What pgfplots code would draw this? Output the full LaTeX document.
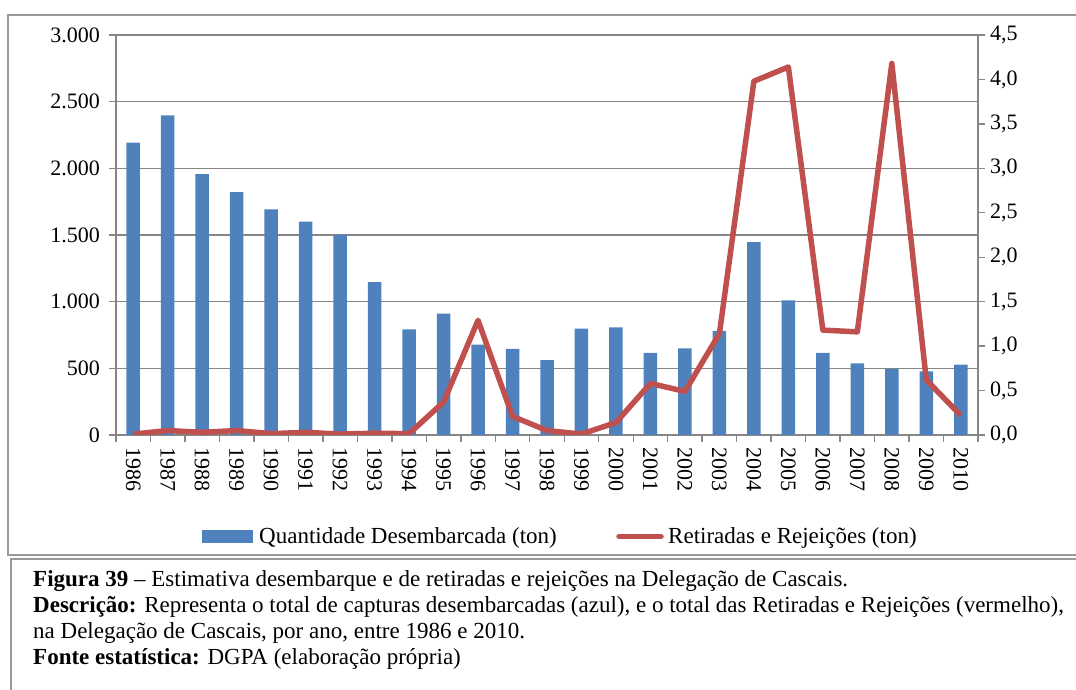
\documentclass[border=0pt]{standalone}
\usepackage{fontspec}
\setmainfont{Liberation Serif}
\usepackage{pgfplots}
\pgfplotsset{compat=1.18}
\definecolor{barblue}{HTML}{4F81BD}
\definecolor{linered}{HTML}{C0504D}
\definecolor{axgray}{HTML}{868686}
\definecolor{framegray}{HTML}{9A9A9A}
\newcommand{\tickfont}{\fontsize{22}{26}\selectfont}
\newcommand{\txtfont}{\fontsize{23}{27}\selectfont}
\begin{document}
\begin{tikzpicture}
\useasboundingbox (0pt,0pt) rectangle (1076pt,690pt);
% outer frames
\draw[framegray, line width=1.6pt] (1076pt,675pt) -- (8pt,675pt) -- (8pt,135pt) -- (1076pt,135pt);
\draw[framegray, line width=1.6pt] (1076pt,131pt) -- (11pt,131pt) -- (11pt,0pt);

\begin{axis}[
  at={(116pt,255pt)}, anchor=south west, scale only axis,
  width=862pt, height=400pt,
  xmin=-0.5, xmax=24.5, ymin=0, ymax=3000,
  axis x line*=bottom, axis y line*=left,
  axis line style={axgray, line width=1.8pt, -},
  ytick={0,500,1000,1500,2000,2500,3000},
  ymajorgrids, grid style={axgray, line width=1.5pt},
  xtick={0,...,24},
  xticklabels={1986,1987,1988,1989,1990,1991,1992,1993,1994,1995,1996,1997,1998,1999,2000,2001,2002,2003,2004,2005,2006,2007,2008,2009,2010},
  minor xtick={-0.5,0.5,...,24.5},
  tick align=outside,
  major tick length=7pt, minor tick length=7pt,
  major x tick style={draw=none},
  minor x tick style={axgray, line width=1.4pt},
  major y tick style={axgray, line width=1.4pt},
  x tick label style={rotate=-90, anchor=west, font=\tickfont, inner sep=0pt},
  xticklabel shift=5pt,
  y tick label style={font=\tickfont, inner sep=0pt},
  yticklabel shift=9pt,
  /pgf/number format/assume math mode=true,
  /pgf/number format/.cd, 1000 sep={.},
]
\addplot[ybar, bar width=13.5pt, fill=barblue, draw=none] coordinates {
(0,2192) (1,2397) (2,1957) (3,1822) (4,1693) (5,1600) (6,1500) (7,1147) (8,793) (9,910)
(10,677) (11,645) (12,562) (13,797) (14,807) (15,615) (16,650) (17,780) (18,1447) (19,1010)
(20,615) (21,537) (22,495) (23,477) (24,527)};
\end{axis}

\begin{axis}[
  at={(116pt,255pt)}, anchor=south west, scale only axis,
  width=862pt, height=400pt,
  xmin=-0.5, xmax=24.5, ymin=0, ymax=4.5,
  axis x line=none, axis y line*=right,
  axis line style={axgray, line width=1.8pt, -},
  ytick={0,0.5,1,1.5,2,2.5,3,3.5,4,4.5},
  tick align=outside, major tick length=7pt,
  major y tick style={axgray, line width=1.4pt},
  y tick label style={font=\tickfont, inner sep=0pt},
  yticklabel shift=5pt,
  /pgf/number format/assume math mode=true,
  /pgf/number format/.cd, fixed, fixed zerofill, precision=1, use comma,
]
\addplot[linered, line width=5.5pt, mark=none, line join=round] coordinates {
(0,0.01) (1,0.05) (2,0.03) (3,0.05) (4,0.015) (5,0.03) (6,0.01) (7,0.02) (8,0.015) (9,0.37)
(10,1.29) (11,0.21) (12,0.05) (13,0.01) (14,0.14) (15,0.58) (16,0.49) (17,1.14) (18,3.98) (19,4.14)
(20,1.18) (21,1.16) (22,4.18) (23,0.62) (24,0.22)};
\end{axis}

% legend
\fill[barblue] (202pt,147pt) rectangle (253pt,160pt);
\node[anchor=base west, inner sep=0pt, font=\txtfont] at (259pt,146pt) {Quantidade Desembarcada (ton)};
\draw[linered, line width=5.5pt, line cap=round] (619pt,153.5pt) -- (661pt,153.5pt);
\node[anchor=base west, inner sep=0pt, font=\txtfont] at (668pt,146pt) {Retiradas e Rejeições (ton)};

% caption
\begin{scope}[every node/.style={anchor=base west, inner sep=0pt, font=\txtfont}]
\node at (33pt,103pt) {\textbf{Figura 39} – Estimativa desembarque e de retiradas e rejeições na Delegação de Cascais.};
\node at (33pt,77pt) {\textbf{Descrição:} Representa o total de capturas desembarcadas (azul), e o total das Retiradas e Rejeições (vermelho),};
\node at (33pt,51pt) {na Delegação de Cascais, por ano, entre 1986 e 2010.};
\node at (33pt,25pt) {\textbf{Fonte estatística:} DGPA (elaboração própria)};
\end{scope}
\end{tikzpicture}
\end{document}
